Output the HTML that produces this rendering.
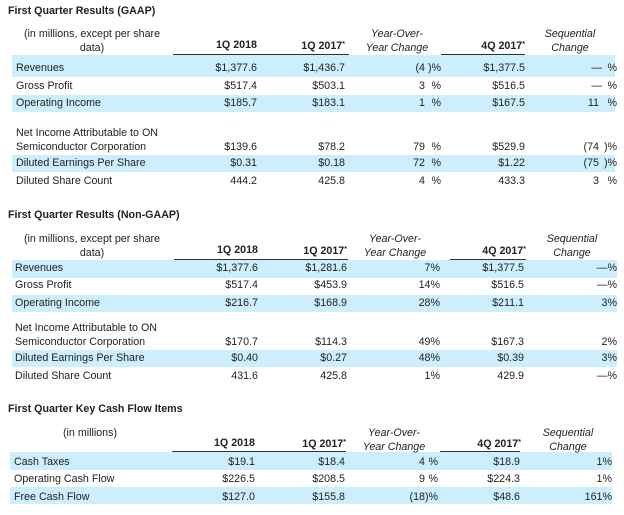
<!DOCTYPE html>
<html><head><meta charset="utf-8"><style>
body{margin:0;width:624px;height:515px;background:#fff;position:relative;overflow:hidden;font-family:"Liberation Sans",Arial,sans-serif;font-size:10.7px;color:#222}
.t{position:absolute;white-space:nowrap;line-height:14px}
.b{font-weight:bold}
.i{font-style:italic;text-align:center}
.band{position:absolute;background:#cdeefc}
.ul{position:absolute;height:1px;background:#333}
sup{font-size:7px;vertical-align:3px}
</style></head><body>
<!-- Section 1 -->
<div class="band" style="left:12px;width:603px;top:55px;height:22px"></div>
<div class="band" style="left:12px;width:603px;top:95px;height:17px"></div>
<div class="band" style="left:12px;width:603px;top:155px;height:17px"></div>
<div class="ul" style="left:173px;width:176px;top:54px"></div>
<div class="ul" style="left:441px;width:84px;top:54px"></div>
<div class="t b" style="left:8px;top:4px">First Quarter Results (GAAP)</div>
<div class="t" style="left:22px;top:27px;width:140px;text-align:center">(in millions, except per share<br>data)</div>
<div class="t b" style="right:367px;top:38px">1Q 2018</div>
<div class="t b" style="right:279px;top:38px">1Q 2017<sup>*</sup></div>
<div class="t i" style="left:347px;width:100px;top:27px">Year-Over-<br>Year Change</div>
<div class="t b" style="right:99px;top:38px">4Q 2017<sup>*</sup></div>
<div class="t i" style="left:530px;width:80px;top:27px">Sequential<br>Change</div>

<div class="t" style="left:16px;top:61px">Revenues</div>
<div class="t" style="left:16px;top:79px">Gross Profit</div>
<div class="t" style="left:16px;top:96px">Operating Income</div>
<div class="t" style="left:16px;top:126px">Net Income Attributable to ON<br>Semiconductor Corporation</div>
<div class="t" style="left:16px;top:156px">Diluted Earnings Per Share</div>
<div class="t" style="left:16px;top:174px">Diluted Share Count</div>

<div class="t" style="right:367px;top:61px">$1,377.6</div>
<div class="t" style="right:367px;top:79px">$517.4</div>
<div class="t" style="right:367px;top:96px">$185.7</div>
<div class="t" style="right:367px;top:140px">$139.6</div>
<div class="t" style="right:367px;top:156px">$0.31</div>
<div class="t" style="right:367px;top:174px">444.2</div>

<div class="t" style="right:279px;top:61px">$1,436.7</div>
<div class="t" style="right:279px;top:79px">$503.1</div>
<div class="t" style="right:279px;top:96px">$183.1</div>
<div class="t" style="right:279px;top:140px">$78.2</div>
<div class="t" style="right:279px;top:156px">$0.18</div>
<div class="t" style="right:279px;top:174px">425.8</div>

<div class="t" style="right:199px;top:61px">(4</div><div class="t" style="right:183px;top:61px">)%</div>
<div class="t" style="right:199px;top:79px">3</div><div class="t" style="right:183px;top:79px">%</div>
<div class="t" style="right:199px;top:96px">1</div><div class="t" style="right:183px;top:96px">%</div>
<div class="t" style="right:199px;top:140px">79</div><div class="t" style="right:183px;top:140px">%</div>
<div class="t" style="right:199px;top:156px">72</div><div class="t" style="right:183px;top:156px">%</div>
<div class="t" style="right:199px;top:174px">4</div><div class="t" style="right:183px;top:174px">%</div>

<div class="t" style="right:99px;top:61px">$1,377.5</div>
<div class="t" style="right:99px;top:79px">$516.5</div>
<div class="t" style="right:99px;top:96px">$167.5</div>
<div class="t" style="right:99px;top:140px">$529.9</div>
<div class="t" style="right:99px;top:156px">$1.22</div>
<div class="t" style="right:99px;top:174px">433.3</div>

<div class="t" style="right:22px;top:61px">—</div><div class="t" style="right:7px;top:61px">%</div>
<div class="t" style="right:22px;top:79px">—</div><div class="t" style="right:7px;top:79px">%</div>
<div class="t" style="right:25px;top:96px">11</div><div class="t" style="right:7px;top:96px">%</div>
<div class="t" style="right:25px;top:140px">(74</div><div class="t" style="right:7px;top:140px">)%</div>
<div class="t" style="right:25px;top:156px">(75</div><div class="t" style="right:7px;top:156px">)%</div>
<div class="t" style="right:25px;top:174px">3</div><div class="t" style="right:7px;top:174px">%</div>

<!-- Section 2 -->
<div class="band" style="left:12px;width:605px;top:260px;height:18px"></div>
<div class="band" style="left:12px;width:605px;top:295px;height:17px"></div>
<div class="band" style="left:12px;width:605px;top:350px;height:17px"></div>
<div class="ul" style="left:174px;width:174px;top:259px"></div>
<div class="ul" style="left:450px;width:76px;top:259px"></div>
<div class="t b" style="left:8px;top:208px">First Quarter Results (Non-GAAP)</div>
<div class="t" style="left:22px;top:232px;width:140px;text-align:center">(in millions, except per share<br>data)</div>
<div class="t b" style="right:366px;top:243px">1Q 2018</div>
<div class="t b" style="right:277px;top:243px">1Q 2017<sup>*</sup></div>
<div class="t i" style="left:345px;width:100px;top:232px">Year-Over-<br>Year Change</div>
<div class="t b" style="right:98px;top:243px">4Q 2017<sup>*</sup></div>
<div class="t i" style="left:532px;width:80px;top:232px">Sequential<br>Change</div>

<div class="t" style="left:15px;top:261px">Revenues</div>
<div class="t" style="left:15px;top:278px">Gross Profit</div>
<div class="t" style="left:15px;top:296px">Operating Income</div>
<div class="t" style="left:15px;top:321px">Net Income Attributable to ON<br>Semiconductor Corporation</div>
<div class="t" style="left:15px;top:351px">Diluted Earnings Per Share</div>
<div class="t" style="left:15px;top:369px">Diluted Share Count</div>

<div class="t" style="right:366px;top:261px">$1,377.6</div>
<div class="t" style="right:366px;top:278px">$517.4</div>
<div class="t" style="right:366px;top:296px">$216.7</div>
<div class="t" style="right:366px;top:335px">$170.7</div>
<div class="t" style="right:366px;top:351px">$0.40</div>
<div class="t" style="right:366px;top:369px">431.6</div>

<div class="t" style="right:277px;top:261px">$1,281.6</div>
<div class="t" style="right:277px;top:278px">$453.9</div>
<div class="t" style="right:277px;top:296px">$168.9</div>
<div class="t" style="right:277px;top:335px">$114.3</div>
<div class="t" style="right:277px;top:351px">$0.27</div>
<div class="t" style="right:277px;top:369px">425.8</div>

<div class="t" style="right:184px;top:261px">7%</div>
<div class="t" style="right:184px;top:278px">14%</div>
<div class="t" style="right:184px;top:296px">28%</div>
<div class="t" style="right:184px;top:335px">49%</div>
<div class="t" style="right:184px;top:351px">48%</div>
<div class="t" style="right:184px;top:369px">1%</div>

<div class="t" style="right:100px;top:261px">$1,377.5</div>
<div class="t" style="right:100px;top:278px">$516.5</div>
<div class="t" style="right:100px;top:296px">$211.1</div>
<div class="t" style="right:100px;top:335px">$167.3</div>
<div class="t" style="right:100px;top:351px">$0.39</div>
<div class="t" style="right:100px;top:369px">429.9</div>

<div class="t" style="right:7px;top:261px">—%</div>
<div class="t" style="right:7px;top:278px">—%</div>
<div class="t" style="right:7px;top:296px">3%</div>
<div class="t" style="right:7px;top:335px">2%</div>
<div class="t" style="right:7px;top:351px">3%</div>
<div class="t" style="right:7px;top:369px">—%</div>

<!-- Section 3 -->
<div class="band" style="left:10px;width:602px;top:452px;height:18px"></div>
<div class="band" style="left:10px;width:602px;top:487px;height:17px"></div>
<div class="ul" style="left:172px;width:174px;top:451px"></div>
<div class="ul" style="left:440px;width:80px;top:451px"></div>
<div class="t b" style="left:8px;top:402px">First Quarter Key Cash Flow Items</div>
<div class="t" style="left:50px;top:426px;width:80px;text-align:center">(in millions)</div>
<div class="t b" style="right:369px;top:436px">1Q 2018</div>
<div class="t b" style="right:278px;top:436px">1Q 2017<sup>*</sup></div>
<div class="t i" style="left:344px;width:100px;top:426px">Year-Over-<br>Year Change</div>
<div class="t b" style="right:103px;top:436px">4Q 2017<sup>*</sup></div>
<div class="t i" style="left:528px;width:80px;top:426px">Sequential<br>Change</div>

<div class="t" style="left:14px;top:455px">Cash Taxes</div>
<div class="t" style="left:14px;top:472px">Operating Cash Flow</div>
<div class="t" style="left:14px;top:490px">Free Cash Flow</div>

<div class="t" style="right:369px;top:455px">$19.1</div>
<div class="t" style="right:369px;top:472px">$226.5</div>
<div class="t" style="right:369px;top:490px">$127.0</div>
<div class="t" style="right:279px;top:455px">$18.4</div>
<div class="t" style="right:279px;top:472px">$208.5</div>
<div class="t" style="right:279px;top:490px">$155.8</div>
<div class="t" style="right:199px;top:455px">4</div><div class="t" style="right:186px;top:455px">%</div>
<div class="t" style="right:199px;top:472px">9</div><div class="t" style="right:186px;top:472px">%</div>
<div class="t" style="right:199px;top:490px">(18</div><div class="t" style="right:186px;top:490px">)%</div>
<div class="t" style="right:104px;top:455px">$18.9</div>
<div class="t" style="right:104px;top:472px">$224.3</div>
<div class="t" style="right:104px;top:490px">$48.6</div>
<div class="t" style="right:12px;top:455px">1%</div>
<div class="t" style="right:12px;top:472px">1%</div>
<div class="t" style="right:12px;top:490px">161%</div>
</body></html>
